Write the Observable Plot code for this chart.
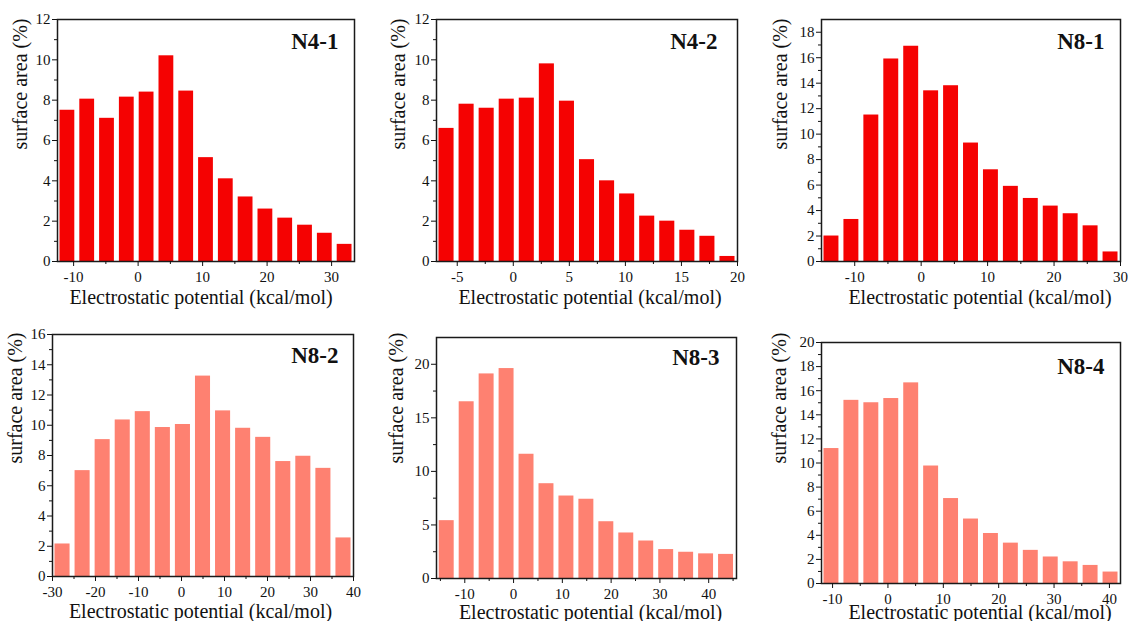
<!DOCTYPE html>
<html>
<head>
<meta charset="utf-8">
<script src="https://cdn.jsdelivr.net/npm/d3@7"></script>
<script src="https://cdn.jsdelivr.net/npm/@observablehq/plot@0.6"></script>
<style>
  html, body { margin: 0; padding: 0; background: #fff; }
  #wrap { position: relative; width: 1128px; height: 621px; overflow: hidden; }
  .panel { position: absolute; }
  .panel svg { overflow: visible; }
  .panel svg, .panel svg text { font-family: "Liberation Serif", "Times New Roman", "DejaVu Serif", serif !important; }
</style>
</head>
<body>
<div id="wrap"></div>
<script>
// ---- data (surface area %, one value per 15 histogram bins) ----
const panelNames = ["N4-1", "N4-2", "N8-1", "N8-2", "N8-3", "N8-4"];
const n41 = [7.5, 8.05, 7.1, 8.15, 8.4, 10.2, 8.45, 5.15, 4.1, 3.2, 2.6, 2.15, 1.8, 1.4, 0.85];
const n42 = [6.6, 7.8, 7.6, 8.05, 8.1, 9.8, 7.95, 5.05, 4.0, 3.35, 2.25, 2.0, 1.55, 1.25, 0.25];
const n81 = [2.0, 3.3, 11.5, 15.9, 16.9, 13.4, 13.8, 9.3, 7.2, 5.9, 4.95, 4.35, 3.75, 2.8, 0.75];
const n82 = [2.15, 7.0, 9.05, 10.35, 10.9, 9.85, 10.05, 13.25, 10.95, 9.8, 9.2, 7.6, 7.95, 7.15, 2.55];
const n83 = [5.4, 16.5, 19.1, 19.6, 11.6, 8.85, 7.7, 7.4, 5.3, 4.25, 3.5, 2.7, 2.45, 2.3, 2.25];
const n84 = [11.2, 15.2, 15.0, 15.35, 16.65, 9.75, 7.05, 5.35, 4.15, 3.35, 2.75, 2.2, 1.8, 1.5, 0.95];
// histogram bin start (kcal/mol) and bin width
const binStarts = [-12.5, -6.85, -15, -30, -15.75, -12];
const binWidths = [3.07, 1.79, 3, 70 / 15, 4.09, 3.6];
// tick labels
const xTickSets = [
  [-10, 0, 10, 20, 30],
  [-5, 0, 5, 10, 15, 20],
  [-10, 0, 10, 20, 30],
  [-30, -20, -10, 0, 10, 20, 30, 40],
  [-10, 0, 10, 20, 30, 40],
  [-10, 0, 10, 20, 30, 40]
];
const yTickSets = [
  [0, 2, 4, 6, 8, 10, 12],
  [0, 2, 4, 6, 8, 10, 12],
  [0, 2, 4, 6, 8, 10, 12, 14, 16, 18],
  [0, 2, 4, 6, 8, 10, 12, 14, 16],
  [0, 5, 10, 15, 20],
  [0, 2, 4, 6, 8, 10, 12, 14, 16, 18, 20]
];
const xTitle = "Electrostatic potential (kcal/mol)";
const yTitle = "surface area (%)";

// ---- layout / style ----
const FONT = "Liberation Serif";
const RED = "#f50202";
const SALMON = "#fe8171";
const seriesList = [n41, n42, n81, n82, n83, n84];
const colors = [RED, RED, RED, SALMON, SALMON, SALMON];

const layout = [
  {col:0,row:0,h:310,L:57,R:22,T:19,B:49,xDom:[-12.5,33.55],yDom:[0,12],xMin:[-5,5,15,25],yMin:d3.range(1,12,2),nDx:16,nDy:29,xlDx:-5,xlDy:42,ylX:20,ylTop:18},
  {col:1,row:0,h:310,L:60,R:15,T:19,B:49,xDom:[-6.85,20],yDom:[0,12],xMin:[-2.5,2.5,7.5,12.5,17.5],yMin:d3.range(1,12,2),nDx:20,nDy:29,xlDx:3,xlDy:42,ylX:22,ylTop:18},
  {col:2,row:0,h:310,L:69,R:8,T:19,B:49,xDom:[-15,30],yDom:[0,19],xMin:[-5,5,15,25],yMin:d3.range(1,18,2),nDx:16,nDy:29,xlDx:9,xlDy:42,ylX:28,ylTop:18},
  {col:0,row:1,h:311,L:52,R:23,T:24,B:45,xDom:[-30,40],yDom:[0,16],xMin:[-25,-15,-5,5,15,25,35],yMin:d3.range(1,16,2),nDx:15,nDy:28,xlDx:-2.5,xlDy:41,ylX:15,ylTop:22},
  {col:1,row:1,h:311,L:60,R:16,T:27,B:43,xDom:[-15.8,45.7],yDom:[0,22.5],xMin:[-15,-5,5,15,25,35,45],yMin:[2.5,7.5,12.5,17.5],nDx:17,nDy:27,xlDx:4,xlDy:40,ylX:20,ylTop:22},
  {col:2,row:1,h:311,L:69,R:8,T:32,B:38,xDom:[-12,42],yDom:[0,20],xMin:[-5,5,15,25,35],yMin:d3.range(1,20,2),nDx:16,nDy:31,xlDx:9,xlDy:35,ylX:27,ylTop:22}
];

const fmt = d => String(d); // hyphen-minus like the original

const wrap = document.getElementById("wrap");
layout.forEach((c, k) => {
  const vals = seriesList[k];
  const data = vals.map((v, i) => ({
    x1: binStarts[k] + i * binWidths[k],
    x2: binStarts[k] + (i + 1) * binWidths[k],
    y: v
  }));
  const chart = Plot.plot({
    width: 376,
    height: c.h,
    marginLeft: c.L, marginRight: c.R, marginTop: c.T, marginBottom: c.B,
    style: {fontFamily: FONT, fontSize: "15px", color: "#111", background: "transparent", overflow: "visible"},
    x: {domain: c.xDom},
    y: {domain: c.yDom},
    marks: [
      Plot.rectY(data, {x1: "x1", x2: "x2", y: "y", fill: colors[k], insetLeft: 2.5, insetRight: 2.5}),
      Plot.frame({stroke: "#1a1a1a", strokeWidth: 1.5}),
      Plot.axisX({ticks: xTickSets[k], tickSize: 5, tickPadding: 5, tickFormat: fmt, label: null, fontSize: 15, fontFamily: FONT}),
      Plot.axisX({ticks: c.xMin, tickSize: 3, text: null, label: null}),
      Plot.axisY({ticks: yTickSets[k], tickSize: 5, tickPadding: 2, tickFormat: fmt, label: null, fontSize: 15, fontFamily: FONT}),
      Plot.axisY({ticks: c.yMin, tickSize: 3, text: null, label: null}),
      Plot.text([panelNames[k]], {text: d => d, frameAnchor: "top-right", dx: -c.nDx, dy: c.nDy,
        textAnchor: "end", lineAnchor: "bottom", fontWeight: "bold", fontSize: 23, fill: "#111", fontFamily: FONT}),
      Plot.text([xTitle], {text: d => d, frameAnchor: "bottom", dx: c.xlDx, dy: c.xlDy,
        lineAnchor: "bottom", fontSize: 20, fill: "#111", fontFamily: FONT}),
      Plot.text([yTitle], {text: d => d, frameAnchor: "top-left", dx: c.ylX - c.L, dy: c.ylTop - c.T,
        rotate: -90, textAnchor: "end", lineAnchor: "middle", fontSize: 20, fill: "#111", fontFamily: FONT})
    ]
  });
  const div = document.createElement("div");
  div.className = "panel";
  div.style.left = (c.col * 376) + "px";
  div.style.top = (c.row * 310) + "px";
  div.appendChild(chart);
  wrap.appendChild(div);
});
</script>
</body>
</html>
